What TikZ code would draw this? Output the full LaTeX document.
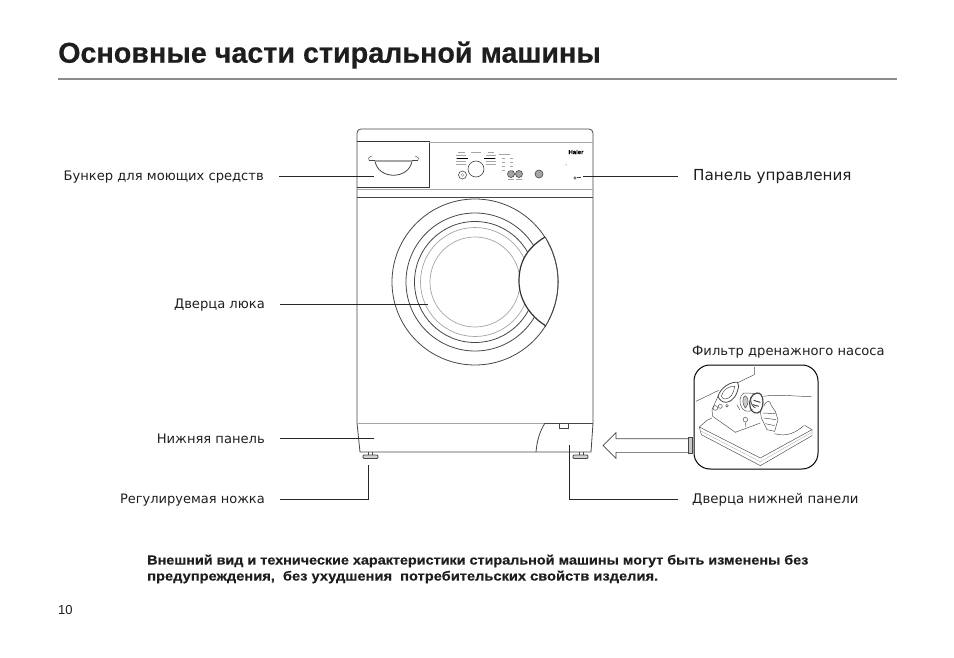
\documentclass[tikz,border=0pt]{standalone}
\usepackage{fontspec}
\usepackage{xcolor}
\setmainfont{DejaVu Sans}
\newfontfamily\headfont{Liberation Sans}[BoldFeatures={FakeBold=0.5}]
\newfontfamily\notefont{Liberation Sans}[BoldFeatures={FakeStretch=1.09,FakeBold=0.35}]
\newfontfamily\notewidefont{Liberation Sans}[BoldFeatures={FakeStretch=1.11,FakeBold=0.35}]
\usetikzlibrary{shapes,arrows,positioning,calc}
\definecolor{inkgray}{RGB}{70, 70, 70}
\definecolor{softgray}{RGB}{165, 165, 165}
\definecolor{rulegray}{RGB}{140, 140, 140}
\definecolor{textblack}{RGB}{30, 30, 30}

\begin{document}
\begin{tikzpicture}[
        x=1pt, y=-1pt,
        caption/.style={inner sep=0pt, text=textblack, font=\fontsize{13.1}{15}\selectfont, text height=11pt, text depth=2pt},
        leader/.style={line width=0.9pt, draw=black!85},
        body/.style={line width=0.8pt, draw=inkgray},
        thin gray/.style={line width=0.7pt, draw=softgray},
        knob/.style={circle, draw=inkgray, line width=0.6pt, inner sep=0pt},
        tick/.style={line width=0.5pt, draw=softgray},
        pic line/.style={line width=0.45pt, draw=inkgray}
    ]
        \useasboundingbox (0,0) rectangle (954,658);

        % Heading
        \node[anchor=west, inner sep=0pt, text=textblack, font=\headfont\bfseries\fontsize{28.7}{30}\selectfont] (nodeTitle) at (58,55) {Основные части стиральной машины};
        \draw[line width=1.2pt, draw=rulegray] (58,79) -- (897,79);

        % Cabinet
        \draw[body] (357,423) -- (357,133) to[out=90,in=180] (361,129) -- (589,129) to[out=0,in=90] (593,133) -- (593,423) -- (591,452) -- (360,452) -- cycle;
        \draw[body] (357,197) -- (593,197);
        \draw[thin gray] (357,189) -- (593,189);
        \draw[white, line width=1pt] (358,423) -- (545,423);
        \draw[thin gray] (357,423) -- (545,423);
        \draw[body] (545,423) -- (593,423);
        \draw[line width=1pt, draw=black!80] (357,142) -- (429,142) -- (429,188) -- (357,188);
        \draw[thin gray] (429,142) -- (593,142);

        % Drawer handle
        \draw[body] (375,161) .. controls (378,180) and (409,180) .. (412,161);
        \draw[thin gray, line width=1.2pt] (375,161) -- (412,161);
        \draw[pic line] (369,160) .. controls (367,159) and (369,157) .. (372,156);
        \draw[pic line] (418,160) .. controls (420,159) and (418,157) .. (415,156);
        \draw[pic line] (369,160) -- (375,160) (412,160) -- (418,160);

        % Control panel
        \node[knob, minimum size=16pt] (nodeDial) at (476,169) {};
        \node[knob, minimum size=8pt] (nodeSmall) at (462.5,175) {};
        \node[circle, draw=softgray, inner sep=0pt, minimum size=3pt] (nodeSmallIn) at (462.5,175) {};
        \node[knob, fill=softgray, minimum size=7pt] (nodeBtnA) at (511,174) {};
        \node[knob, fill=softgray, minimum size=7pt] (nodeBtnB) at (519,174) {};
        \node[knob, fill=softgray, minimum size=8pt] (nodeBtnC) at (539,174) {};
        \node[inner sep=0pt, font=\headfont\bfseries\fontsize{6}{6}\selectfont] (nodeBrand) at (576,152) {Haier};
        \foreach \yy in {155,158,161,164} {
            \draw[tick] (456,\yy) -- (466,\yy);
            \draw[tick] (486,\yy) -- (496,\yy);
        }
        \draw[line width=0.9pt] (457,158) -- (468,158) (484,158) -- (495,158);
        \foreach \yy in {158,162,166,170} {
            \draw[tick] (502,\yy) -- (505,\yy);
            \draw[tick] (510,\yy) -- (513,\yy);
        }
        \draw[tick] (499,154) -- (510,154);
        \draw[tick] (458,152.5) -- (465,152.5) (471,152.5) -- (481,152.5) (488,152.5) -- (494,152.5);
        \draw[tick] (508,179) -- (514,179) (516,179) -- (522,179);
        \fill[black!70] (566,165) circle (0.5pt);
        \draw[pic line] (575,178) circle (1.3pt);
        \draw[pic line] (577,177) -- (581,177);

        % Door rings
        \draw[body] (475,282) circle (83);
        \draw[body] (475,282) circle (69);
        \draw[body] (475,282) circle (60.5);
        \draw[thin gray] (475,282) circle (54.5);
        \draw[thin gray] (475,282) circle (45);
        \fill[white] (545,237) .. controls (527,248) and (519,262) .. (519,281) .. controls (519,300) and (530,316) .. (546,326) .. controls (556,300) and (556,262) .. (545,237) -- cycle;
        \draw[body] (545,237) arc[start angle=-32.7, end angle=32.9, radius=83];
        \draw[line width=1.2pt, draw=black!80] (545,237) .. controls (527,248) and (519,262) .. (519,281) .. controls (519,300) and (530,316) .. (546,326);

        % Lower door and feet
        \draw[body] (536,452) .. controls (537,440) and (540,431) .. (545,423);
        \draw[body] (559,423) -- (559,428) -- (568,428) -- (568,423);
        \draw[body] (368,452) -- (368,455) (372,452) -- (372,455);
        \draw[body, fill=softgray!50, rounded corners=1pt] (363,455) rectangle (378,458.5);
        \draw[body] (579,452) -- (579,455) (583,452) -- (583,455);
        \draw[body, fill=softgray!50, rounded corners=1pt] (573,455) rectangle (588,458.5);

        % Captions
        \node[caption, anchor=east] (capHopper) at (264,176) {Бункер для моющих средств};
        \node[caption, anchor=east] (capDoor) at (265,304) {Дверца люка};
        \node[caption, anchor=east] (capPlinth) at (265,438.5) {Нижняя панель};
        \node[caption, anchor=east, font=\fontsize{13}{15}\selectfont] (capFoot) at (265,499) {Регулируемая ножка};
        \node[caption, anchor=west, font=\fontsize{15.2}{18}\selectfont] (capPanel) at (693,176) {Панель управления};
        \node[caption, anchor=west] (capFilter) at (692,351) {Фильтр дренажного насоса};
        \node[caption, anchor=west, font=\fontsize{13.3}{15}\selectfont] (capHatch) at (692,499) {Дверца нижней панели};

        % Free ends of the leaders
        \coordinate (endHopper) at (374,176);
        \coordinate (endDoor) at (428,304);
        \coordinate (endPlinth) at (374,438.5);
        \coordinate (endFoot) at (368,465);
        \coordinate (endPanel) at (583,176);
        \coordinate (endHatch) at (569,445);

        % Leaders
        \draw[leader, shorten <=15pt] (capHopper.east) -- (endHopper);
        \draw[leader, shorten <=15pt] (capDoor.east) -- (endDoor);
        \draw[leader, shorten <=15pt] (capPlinth.east) -- (endPlinth);
        \draw[leader, shorten <=15pt] (capFoot.east) -| (endFoot);
        \draw[leader, shorten <=15pt] (capPanel.west) -- (endPanel);
        \draw[leader, shorten <=14pt] (capHatch.west) -| (endHatch);

        % Filter inset
        \node[draw=black, line width=1pt, rounded corners=16pt, minimum width=124pt, minimum height=104pt, inner sep=0pt] (boxFilter) at (756,417) {};
        \begin{scope}[shift={(692,363)}, x=0.3333pt, y=-0.3333pt]
            % wall and machine
            \draw[pic line] (187,12) -- (187,35) -- (135,60);
            \draw[pic line] (12,115) -- (80,82);
            \draw[pic line, line width=0.8pt] (78,100) .. controls (85,75) and (115,55) .. (137,58) -- (140,70) .. controls (135,95) and (125,115) .. (102,118) .. controls (90,118) and (82,110) .. (78,100);
            \draw[pic line] (88,100) .. controls (92,80) and (112,68) .. (128,70) .. controls (126,90) and (115,108) .. (100,108) .. controls (94,108) and (90,105) .. (88,100);
            \draw[pic line] (78,100) -- (60,140) -- (62,160) -- (130,208) -- (205,180);
            \draw[pic line] (70,135) circle (7) (85,130) circle (6) (105,128) circle (4);
            \draw[pic line] (135,125) -- (143,140);
            % filter plug
            \draw[pic line] (165,90) .. controls (150,85) and (140,105) .. (145,125) .. controls (150,145) and (170,150) .. (182,140);
            \draw[pic line] (165,90) -- (200,92);
            \draw[pic line, fill=softgray!60] (160,98) .. controls (150,100) and (150,125) .. (160,135) .. controls (170,125) and (172,105) .. (160,98);
            \draw[pic line, line width=1.2pt] (195,90) .. controls (215,88) and (218,125) .. (205,145) .. controls (195,155) and (180,150) .. (175,135) .. controls (168,115) and (178,92) .. (195,90);
            \draw[pic line, line width=0.8pt] (178,100) .. controls (172,115) and (180,130) .. (190,135);
            \draw[pic line, line width=1pt] (185,112) -- (205,118) (182,125) -- (200,130);
            % hand
            \draw[pic line] (215,100) .. controls (260,92) and (320,102) .. (358,100);
            \draw[pic line] (215,130) .. controls (225,108) and (235,112) .. (238,128) -- (250,145) -- (258,170) -- (248,205) -- (225,200) -- (208,165) -- (205,145);
            \draw[pic line] (212,150) -- (250,152) (215,165) -- (252,170) (220,182) -- (248,188);
            \draw[pic line] (248,212) .. controls (270,218) and (300,220) .. (335,188);
            % small plug
            \draw[pic line] (160,170) circle (7);
            \draw[pic line] (160,178) -- (162,192);
            % tray
            \draw[pic line] (22,192) -- (205,285) -- (360,200) -- (338,187);
            \draw[pic line] (22,192) -- (45,172) -- (60,165);
            \draw[pic line] (22,192) -- (28,215) -- (205,308) -- (360,218) -- (360,200);
            \draw[tick, line width=0.3pt] (26,204) -- (205,296) -- (358,209);
        \end{scope}

        % Arrow from the inset
        \node[draw=inkgray, line width=0.7pt, single arrow, shape border rotate=180, inner xsep=0pt, inner ysep=6.5pt, single arrow head extend=6pt, minimum height=86pt, anchor=center] (arrowFilter) at (649.5,445.5) {};
        \draw[body, fill=softgray!60] (688,437.5) rectangle (692,453);

        % Notice
        \node[anchor=west, inner sep=0pt, text=textblack, font=\notefont\bfseries\fontsize{13.2}{16}\selectfont] (noteOne) at (147,561) {Внешний вид и технические характеристики стиральной машины могут быть изменены без};
        \node[anchor=west, inner sep=0pt, text=textblack, font=\notewidefont\bfseries\fontsize{13.2}{16}\selectfont] (noteTwo) at (147,577) {предупреждения,\ \ без ухудшения\ \ потребительских свойств изделия.};

        % Page number
        \node[anchor=west, inner sep=0pt, text=textblack, font=\headfont\fontsize{13}{15}\selectfont] (nodePage) at (58,610) {10};
\end{tikzpicture}
\end{document}
